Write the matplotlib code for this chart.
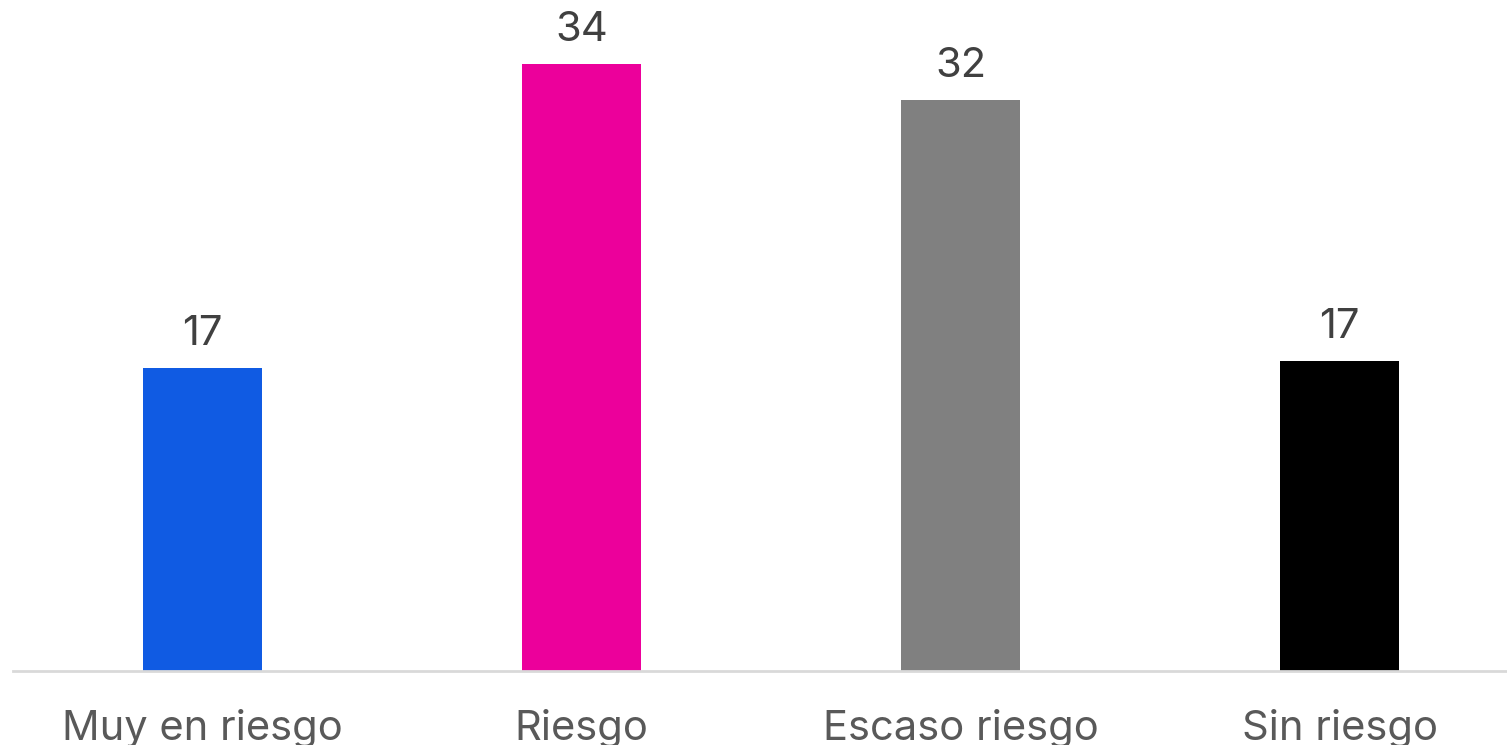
import matplotlib
matplotlib.use("Agg")
import matplotlib.pyplot as plt

categories = ["Muy en riesgo", "Riesgo", "Escaso riesgo", "Sin riesgo"]
values = [17.0, 34.0, 32.0, 17.35]
labels = ["17", "34", "32", "17"]
colors = ["#105BE3", "#EC009B", "#808080", "#000000"]

plt.rcParams['font.family'] = ['Inter', 'DejaVu Sans']
W, H = 1507, 745
fig = plt.figure(figsize=(W/100, H/100), dpi=100)
ax = fig.add_axes([13/W, 74/H, 1 - 13/W, 1 - 74/H])
x = list(range(len(categories)))
ax.bar(x, values, width=0.316, color=colors)
for xi, v, lab in zip(x, values, labels):
    ax.annotate(lab, (xi, v), xytext=(0, 15), textcoords="offset pixels",
                ha="center", va="bottom", fontsize=30, color="#404040")
ax.set_xlim(-0.5, (W - 13) / 379 - 0.5)
ax.set_ylim(0, 671 / 17.85)
ax.set_xticks(x)
ax.set_xticklabels(categories, fontsize=30, color="#595959")
ax.tick_params(axis="x", length=0, pad=27)
ax.set_yticks([])
for s in ["top", "right", "left"]:
    ax.spines[s].set_visible(False)
ax.spines["bottom"].set_color("#d9d9d9")
ax.spines["bottom"].set_linewidth(2)
fig.savefig("out.png", dpi=100)
